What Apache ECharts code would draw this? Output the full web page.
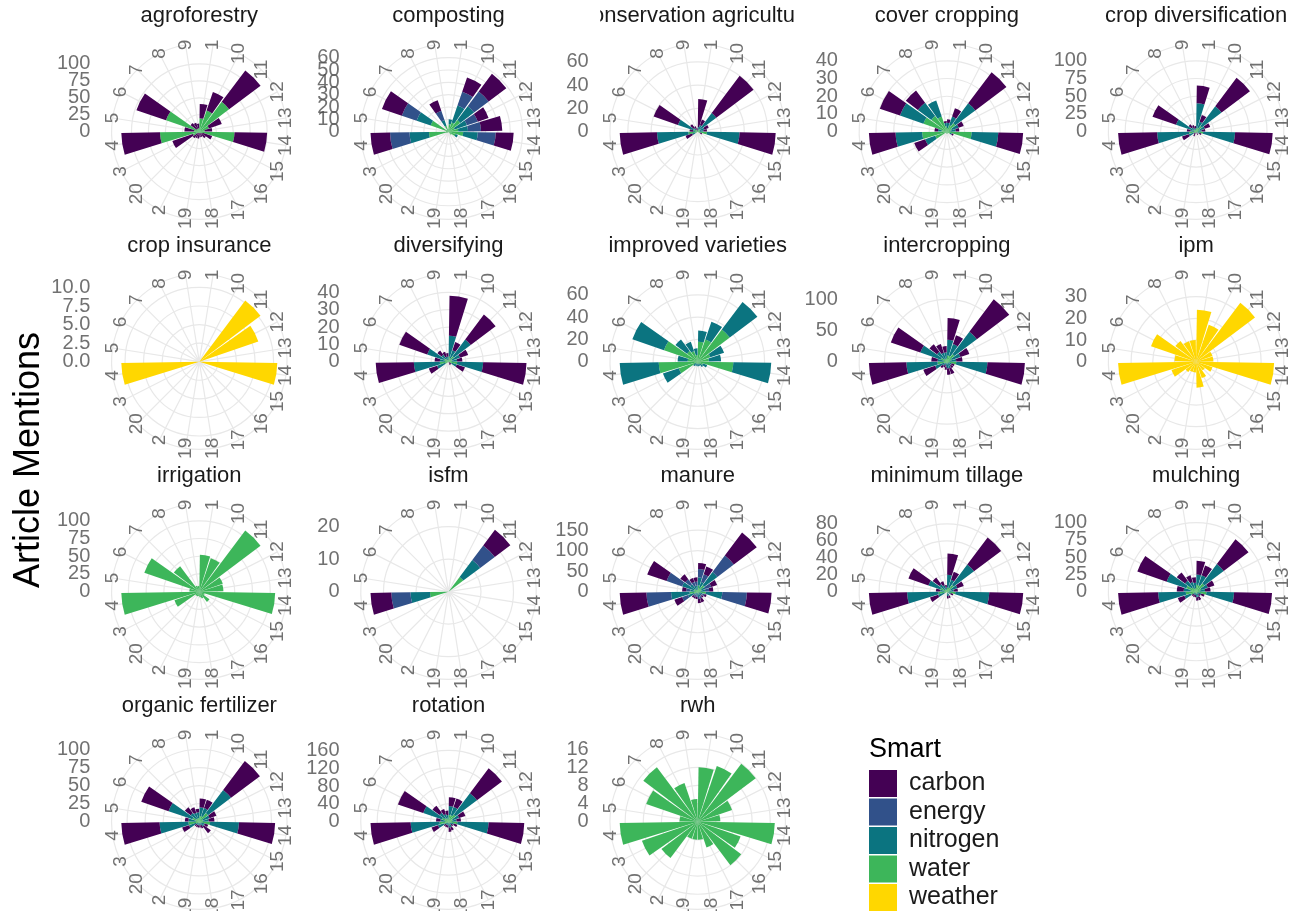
<!DOCTYPE html>
<html>
<head>
<meta charset="utf-8">
<script src="https://cdn.jsdelivr.net/npm/echarts@6/dist/echarts.min.js"></script>
<style>
  html, body { margin: 0; padding: 0; background: #ffffff; }
  #chart { width: 1292px; height: 911px; }
</style>
</head>
<body>
<div id="chart"></div>
<script>
// Angular categories (sorted as text, clockwise from the top)
const positions = ['1','10','11','12','13','14','15','16','17','18','19','2','20','3','4','5','6','7','8','9'];

// Smart categories, legend order and colours
const smartTypes = ['carbon', 'energy', 'nitrogen', 'water', 'weather'];
const smartColors = ['#440154', '#31518A', '#0B7480', '#3DB65A', '#FFD700'];
// stacking order, from the centre outwards
const stackOrder = ['weather', 'water', 'nitrogen', 'energy', 'carbon'];

// ---- article mentions per practice (values follow `positions`) ----
const agroforestryTicks = [0, 25, 50, 75, 100];
const agroforestryWater  = [20,33,55,15,8,52,5,3,2,2,2,2,3,10,58,8,52,5,5,5];
const agroforestryCarbon = [21,29,58,20,11,48,15,9,6,6,8,8,9,32,57,14,46,11,9,7];

const compostingTicks = [0, 10, 20, 30, 40, 50, 60];
const compostingWater    = [6,7.9,11.9,5.3,7.9,11.9,6,3,0,0,0,1,1,2,15.8,2,15.3,2,5,2];
const compostingNitrogen = [4,14.5,14,10.6,7.9,11.9,2,0,0,0,0,0,0,0,15.8,0,12,0,5,0];
const compostingEnergy   = [0,11.9,14.8,9.2,10.6,14.5,0,0,0,0,0,0,0,0,15.8,0,12.7,0,8,0];
const compostingCarbon   = [0,12.1,17.9,9.2,17.2,14.5,0,0,0,0,0,0,0,0,15.8,0,17,0,9,0];

const conservationTicks = [0, 20, 40, 60];
const conservationWater    = [0,2,3,2,2,8,2,0,0,0,0,0,0,2,8,2,4,2,2,0];
const conservationNitrogen = [4,4,17,4,3,28,0,0,0,0,0,0,0,3,27,2,14,2,0,0];
const conservationCarbon   = [24,5,40,4,3,31,2,0,0,0,0,0,0,6,32,3,22,4,3,3];

const coverTicks = [0, 10, 20, 30, 40];
const coverWater    = [2,4,6,3,2,14,2,1,1,1,1,1,1,7,14,3,14,11,9,3];
const coverNitrogen = [3,5,14,4,3,15,1,0,0,0,0,0,0,6,15,2,14,9.5,9.6,2];
const coverCarbon   = [2,5,22,3,2,14,1,0,0,0,0,0,0,6.5,15,2,12,8.5,0,1];

const cropDivTicks = [0, 25, 50, 75, 100];
const cropDivWater    = [5,5,10,5,3,10,2,0,0,0,0,2,2,3,10,3,5,3,2,2];
const cropDivNitrogen = [35,10,35,8,5,45,3,0,2,0,0,0,0,8,45,5,25,5,3,3];
const cropDivCarbon   = [25,10,50,8,5,53,3,2,3,0,0,5,2,10,55,5,35,5,5,3];

const insuranceTicks = [0, 2.5, 5, 7.5, 10];
const insuranceWeather = [0,0,10.3,8.4,0,10.5,0,0,0,0,0,0,0,0,10.5,0,0,0,0,0];

const diversifyingTicks = [0, 10, 20, 30, 40];
const diversifyingWater    = [3,2,4,2,2,5,2,0,0,0,0,0,0,2,5,2,3,2,1,1];
const diversifyingNitrogen = [12,5,12,5,3,15,3,0,0,0,0,0,0,5,15,3,10,3,2,2];
const diversifyingCarbon   = [23,5,18,5,3,25,5,2,2,0,0,0,0,5,22,3,17,3,3,2];

const varietiesTicks = [0, 20, 40, 60];
const varietiesWater    = [18,21,36,12,10,32,5,3,2,2,2,2,2,18,35,9,32,12,10,6];
const varietiesNitrogen = [10,17,31,13,11,34,4,3,2,2,2,2,3,15,35,9,30,13,9,6];

const intercroppingTicks = [0, 50, 100];
const intercroppingWater    = [10,10,15,8,5,15,3,3,3,3,3,2,3,5,15,5,10,5,5,5];
const intercroppingNitrogen = [25,20,45,15,10,50,5,5,8,8,5,3,5,15,50,10,35,15,10,10];
const intercroppingCarbon   = [35,15,65,15,10,60,5,5,10,10,5,5,5,20,60,10,50,15,15,10];

const ipmTicks = [0, 10, 20, 30];
const ipmWeather = [24,18,34,8,8,36,8,5,8,12,5,5,6,12,36,10,22,12,10,10];

const irrigationTicks = [0, 25, 50, 75, 100];
const irrigationWater = [52,50,108,35,34,107,8,18,10,8,6,7,7,37,110,14,82,45,9,8];

const isfmTicks = [0, 10, 20];
const isfmWater    = [0,0,5.7,0,0,0,0,0,0,0,0,0,0,0,5.7,0,0,0,0,0];
const isfmNitrogen = [0,0,6.5,0,0,0,0,0,0,0,0,0,0,0,6.0,0,0,0,0,0];
const isfmEnergy   = [0,0,5.6,0,0,0,0,0,0,0,0,0,0,0,5.9,0,0,0,0,0];
const isfmCarbon   = [0,0,6.0,0,0,0,0,0,0,0,0,0,0,0,6.4,0,0,0,0,0];

const manureTicks = [0, 50, 100, 150];
const manureWater    = [15,10,20,10,8,20,5,3,5,5,3,3,3,10,20,8,10,8,5,5];
const manureNitrogen = [20,15,40,10,10,40,8,5,8,8,5,5,5,15,45,10,30,15,10,10];
const manureEnergy   = [20,20,50,15,10,60,5,5,5,5,5,5,5,15,60,10,40,15,10,10];
const manureCarbon   = [15,20,70,15,10,60,5,5,10,10,5,5,5,20,65,10,50,15,10,10];

const tillageTicks = [0, 20, 40, 60, 80];
const tillageWater    = [5,5,10,5,3,10,2,0,2,2,0,0,0,3,10,3,8,3,3,2];
const tillageNitrogen = [15,10,30,8,5,40,3,0,3,3,0,0,0,8,37,5,15,8,5,3];
const tillageCarbon   = [25,10,40,8,5,40,3,0,3,3,0,0,0,10,45,5,25,10,5,3];

const mulchingTicks = [0, 25, 50, 75, 100];
const mulchingWater    = [10,10,15,8,5,15,3,2,3,3,2,2,2,8,15,8,15,8,5,5];
const mulchingNitrogen = [15,15,35,10,8,40,5,3,5,5,3,3,3,10,40,10,30,12,10,8];
const mulchingCarbon   = [20,15,45,10,8,55,5,3,5,5,3,3,3,10,58,10,45,15,10,8];

const organicTicks = [0, 25, 50, 75, 100];
const organicWater    = [8,8,15,5,5,15,3,3,2,2,2,2,2,5,15,5,10,5,5,5];
const organicNitrogen = [12,12,40,10,8,40,5,5,3,3,3,3,3,10,40,10,35,10,8,8];
const organicCarbon   = [12,12,50,10,8,50,5,12,5,3,3,3,3,10,53,5,40,10,8,5];

const rotationTicks = [0, 40, 80, 120, 160];
const rotationWater    = [15,15,20,10,8,20,5,3,5,5,3,3,3,10,20,8,15,10,8,5];
const rotationNitrogen = [20,20,60,15,10,70,8,5,8,8,5,5,5,15,65,10,45,15,10,10];
const rotationCarbon   = [20,20,70,15,10,80,8,5,8,10,5,5,5,15,90,10,60,20,12,10];

const rwhTicks = [0, 4, 8, 12, 16];
const rwhWater = [12,13,16,8,5,17,10,12,6,4,4,4,10,13,17.2,4,12,15,9,5];

// facet list: title, radial ticks, stacked series
const facets = [
  ['agroforestry', agroforestryTicks, { water: agroforestryWater, carbon: agroforestryCarbon }],
  ['composting', compostingTicks, { water: compostingWater, nitrogen: compostingNitrogen, energy: compostingEnergy, carbon: compostingCarbon }],
  ['conservation agriculture', conservationTicks, { water: conservationWater, nitrogen: conservationNitrogen, carbon: conservationCarbon }],
  ['cover cropping', coverTicks, { water: coverWater, nitrogen: coverNitrogen, carbon: coverCarbon }],
  ['crop diversification', cropDivTicks, { water: cropDivWater, nitrogen: cropDivNitrogen, carbon: cropDivCarbon }],
  ['crop insurance', insuranceTicks, { weather: insuranceWeather }],
  ['diversifying', diversifyingTicks, { water: diversifyingWater, nitrogen: diversifyingNitrogen, carbon: diversifyingCarbon }],
  ['improved varieties', varietiesTicks, { water: varietiesWater, nitrogen: varietiesNitrogen }],
  ['intercropping', intercroppingTicks, { water: intercroppingWater, nitrogen: intercroppingNitrogen, carbon: intercroppingCarbon }],
  ['ipm', ipmTicks, { weather: ipmWeather }],
  ['irrigation', irrigationTicks, { water: irrigationWater }],
  ['isfm', isfmTicks, { water: isfmWater, nitrogen: isfmNitrogen, energy: isfmEnergy, carbon: isfmCarbon }],
  ['manure', manureTicks, { water: manureWater, nitrogen: manureNitrogen, energy: manureEnergy, carbon: manureCarbon }],
  ['minimum tillage', tillageTicks, { water: tillageWater, nitrogen: tillageNitrogen, carbon: tillageCarbon }],
  ['mulching', mulchingTicks, { water: mulchingWater, nitrogen: mulchingNitrogen, carbon: mulchingCarbon }],
  ['organic fertilizer', organicTicks, { water: organicWater, nitrogen: organicNitrogen, carbon: organicCarbon }],
  ['rotation', rotationTicks, { water: rotationWater, nitrogen: rotationNitrogen, carbon: rotationCarbon }],
  ['rwh', rwhTicks, { water: rwhWater }]
];

// ---- layout ----
const FONT = '"Liberation Sans", Arial, Helvetica, sans-serif';
const GRID_COLOR = '#E8E8E8';
const GRID_WIDTH = 1.2;
const PANEL = 195;            // square panel side
const COL0 = 199.3, COL_STEP = 249.2;
const ROW0 = 131.7, ROW_STEP = 230;
const R_BAR = 0.4 * PANEL;    // radius reached by the tallest stack
const R_OUTER = 0.45 * PANEL; // outer ring carrying the angular labels

const colorOf = {};
smartTypes.forEach((t, k) => { colorOf[t] = smartColors[k]; });

const option = {
  backgroundColor: '#ffffff',
  animation: false,
  textStyle: { fontFamily: FONT },
  polar: [], angleAxis: [], radiusAxis: [],
  grid: [], xAxis: [], yAxis: [],
  series: [], graphic: [],
  legend: {
    orient: 'vertical',
    left: 869, top: 770, padding: 0,
    itemWidth: 28, itemHeight: 27, itemGap: 1.5,
    icon: 'rect',
    selectedMode: false,
    data: smartTypes,
    textStyle: { fontSize: 25, color: '#1A1A1A', fontFamily: FONT, padding: [0, 0, 0, 7] }
  }
};

facets.forEach(([title, ticks, stacks], i) => {
  const col = i % 5, row = Math.floor(i / 5);
  const cx = COL0 + col * COL_STEP;
  const cy = ROW0 + row * ROW_STEP;

  const totals = positions.map((_, k) =>
    stackOrder.reduce((s, t) => s + (stacks[t] ? stacks[t][k] : 0), 0));
  const dataMax = Math.max(...totals);
  const step = ticks[1] - ticks[0];
  const topBreak = ticks[ticks.length - 1];
  const outerValue = dataMax * R_OUTER / R_BAR;
  const rBreak = R_BAR * topBreak / dataMax;
  const fmt = v => (step % 1 ? v.toFixed(1) : String(v));

  const pBars = 2 * i, pRings = 2 * i + 1;

  // polar system holding the bars, spokes and the outer ring
  option.polar.push({ center: [cx, cy], radius: R_OUTER });
  option.angleAxis.push({
    polarIndex: pBars, type: 'category', data: positions, boundaryGap: false,
    startAngle: 90 - 180 / positions.length, clockwise: true,
    axisLine: { show: true, lineStyle: { color: GRID_COLOR, width: GRID_WIDTH } },
    axisTick: { show: false }, axisLabel: { show: false },
    splitLine: { show: true, lineStyle: { color: GRID_COLOR, width: GRID_WIDTH } }
  });
  option.radiusAxis.push({
    polarIndex: pBars, type: 'value', min: 0, max: outerValue,
    axisLine: { show: false }, axisTick: { show: false }, axisLabel: { show: false },
    splitLine: { show: false }
  });

  // polar system drawing the radial break rings
  option.polar.push({ center: [cx, cy], radius: rBreak });
  option.angleAxis.push({
    polarIndex: pRings, type: 'value', min: 0, max: 360, startAngle: 90,
    axisLine: { show: false }, axisTick: { show: false }, axisLabel: { show: false },
    splitLine: { show: false }
  });
  option.radiusAxis.push({
    polarIndex: pRings, type: 'value', min: 0, max: topBreak, interval: step,
    axisLine: { show: false }, axisTick: { show: false }, axisLabel: { show: false },
    splitLine: { show: true, lineStyle: { color: GRID_COLOR, width: GRID_WIDTH } }
  });

  // radial scale on the left of the panel (same mapping as the rings)
  option.grid.push({ left: cx - PANEL / 2 - 1, top: cy - rBreak, width: 1, height: rBreak,
                     containLabel: false, outerBoundsMode: 'none' });
  option.xAxis.push({ gridIndex: i, type: 'value', show: false, min: 0, max: 1 });
  option.yAxis.push({ gridIndex: i, type: 'value', show: false, min: 0, max: topBreak, interval: step });
  option.series.push({
    type: 'scatter', xAxisIndex: i, yAxisIndex: i, name: 'ticks-' + i,
    silent: true, symbolSize: 1, itemStyle: { color: 'rgba(0,0,0,0)' },
    data: ticks.map(v => [0, v]),
    label: {
      show: true, position: 'left', distance: 10,
      formatter: q => fmt(q.data[1]),
      fontSize: 20, color: '#4D4D4D', fontFamily: FONT
    }
  });

  // stacked bars
  stackOrder.forEach(t => {
    if (!stacks[t]) return;
    option.series.push({
      type: 'bar', coordinateSystem: 'polar', polarIndex: pBars,
      name: t, stack: 'facet' + i, data: stacks[t],
      barCategoryGap: '10%', silent: true,
      itemStyle: { color: colorOf[t] }
    });
  });

  // angular labels centred on the outer ring, turned a quarter
  option.series.push({
    type: 'scatter', coordinateSystem: 'polar', polarIndex: pBars,
    name: 'positions-' + i, silent: true, z: 4,
    symbolSize: 1, itemStyle: { color: 'rgba(0,0,0,0)' },
    data: positions.map(p => [outerValue, p]),
    label: {
      show: true, position: 'inside', rotate: 90,
      formatter: q => q.data[1],
      fontSize: 19, color: '#4D4D4D', fontFamily: FONT
    }
  });

  // facet strip title, clipped to the panel width
  const stripTop = cy - PANEL / 2 - 36;
  option.graphic.push({
    type: 'text', x: cx, y: cy - PANEL / 2 - 18, z: 10,
    style: { text: title, fontSize: 22, fill: '#1A1A1A', align: 'center',
             verticalAlign: 'middle', fontFamily: FONT }
  });
  option.graphic.push({
    type: 'rect', z: 11,
    shape: { x: cx + PANEL / 2, y: stripTop, width: 40, height: 34 },
    style: { fill: '#ffffff' }
  });
  option.graphic.push({
    type: 'rect', z: 11,
    shape: { x: cx - PANEL / 2 - 40, y: stripTop, width: 40, height: 34 },
    style: { fill: '#ffffff' }
  });
});

// shared radial axis title and legend title
option.graphic.push({
  type: 'text', x: 29, y: 460, rotation: Math.PI / 2, z: 10,
  style: { text: 'Article Mentions', fontSize: 36, fill: '#000000', align: 'center',
           verticalAlign: 'middle', fontFamily: FONT }
});
option.graphic.push({
  type: 'text', x: 869, y: 750, z: 10,
  style: { text: 'Smart', fontSize: 27, fill: '#000000', align: 'left',
           verticalAlign: 'middle', fontFamily: FONT }
});

const chart = echarts.init(document.getElementById('chart'), null, { renderer: 'canvas' });
chart.setOption(option);
</script>
</body>
</html>
